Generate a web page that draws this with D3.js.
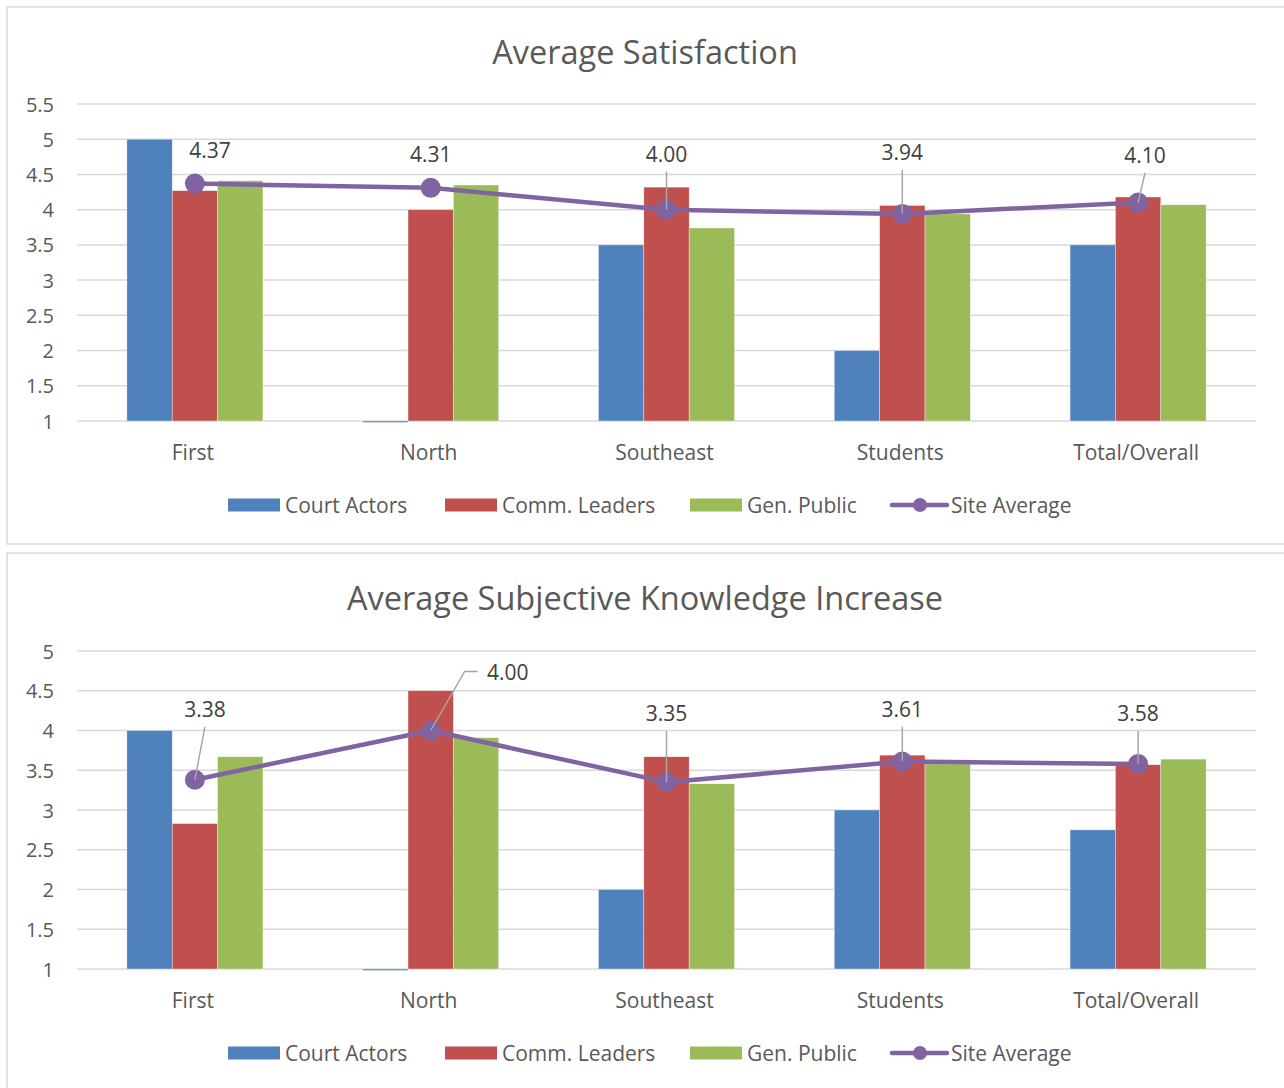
<!DOCTYPE html>
<html>
<head>
<meta charset="utf-8">
<script src="https://cdn.jsdelivr.net/npm/d3@7"></script>
<style>
  body { margin: 0; background: #fff; }
  svg text { font-family: "Open Sans", sans-serif; fill: #595959; }
</style>
</head>
<body>
<div id="container"></div>
<script>
// categories and series
const categories = ["First", "North", "Southeast", "Students", "Total/Overall"];
const seriesNames = ["Court Actors", "Comm. Leaders", "Gen. Public"];
const colors = ["#4F81BD", "#C0504D", "#9BBB59"];
const avgName = "Site Average";

// Average Satisfaction
const satCourt = [5.0, 0, 3.5, 2.0, 3.5];
const satComm  = [4.27, 4.0, 4.32, 4.06, 4.18];
const satGen   = [4.41, 4.35, 3.74, 3.94, 4.07];
const satAvg   = [4.37, 4.31, 4.00, 3.94, 4.10];
const satTicks = [1, 1.5, 2, 2.5, 3, 3.5, 4, 4.5, 5, 5.5];

// Average Subjective Knowledge Increase
const knCourt = [4.0, 0, 2.0, 3.0, 2.75];
const knComm  = [2.83, 4.5, 3.67, 3.69, 3.57];
const knGen   = [3.67, 3.91, 3.33, 3.58, 3.64];
const knAvg   = [3.38, 4.00, 3.35, 3.61, 3.58];
const knTicks = [1, 1.5, 2, 2.5, 3, 3.5, 4, 4.5, 5];

const width = 1284, height = 1088;
const svg = d3.select("#container").append("svg")
    .attr("width", width)
    .attr("height", height);

function drawChart(top, boxH, plotTop, plotH, title, bars, avg, ticks, labelOff) {
  const g = svg.append("g").attr("transform", "translate(0," + top + ")");
  g.append("rect")
      .attr("x", 7).attr("y", 0)
      .attr("width", 1290).attr("height", boxH)
      .attr("fill", "none").attr("stroke", "#D9D9D9").attr("stroke-width", 1.5);

  g.append("text")
      .attr("x", 645).attr("y", 44)
      .attr("text-anchor", "middle")
      .attr("dominant-baseline", "central")
      .style("font-size", "32.5px")
      .text(title);

  const plotBot = plotTop + plotH;
  const y = d3.scaleLinear().domain([ticks[0], ticks[ticks.length - 1]]).range([plotBot, plotTop]);
  const x0 = d3.scaleBand().domain(categories).range([77, 1256]).paddingInner(0.423).paddingOuter(0.2115);
  const x1 = d3.scaleBand().domain(seriesNames).range([0, x0.bandwidth()]);

  g.append("g")
    .selectAll("line")
    .data(ticks)
    .join("line")
      .attr("x1", 77).attr("x2", 1256)
      .attr("y1", d => y(d)).attr("y2", d => y(d))
      .attr("stroke", "#D9D9D9").attr("stroke-width", 1.5);

  g.append("g")
    .selectAll("text")
    .data(ticks)
    .join("text")
      .attr("x", 54).attr("y", d => y(d))
      .attr("text-anchor", "end")
      .attr("dominant-baseline", "central")
      .style("font-size", "20px")
      .text(d => d);

  const base = ticks[0];
  seriesNames.forEach((s, si) => {
    g.append("g")
      .selectAll("rect")
      .data(bars[si])
      .join("rect")
        .attr("x", (d, i) => x0(categories[i]) + x1(s))
        .attr("width", x1.bandwidth())
        .attr("y", d => d < base ? y(base) : y(d))
        .attr("height", d => d < base ? 1.5 : y(base) - y(d))
        .attr("fill", colors[si])
        .attr("stroke", "#fff").attr("stroke-width", 0.6).attr("stroke-opacity", 0.6);
  });

  const cx = (d, i) => x0(categories[i]) + x0.bandwidth() / 2;
  const line = d3.line().x(cx).y(d => y(d));
  g.append("path")
      .datum(avg)
      .attr("d", line)
      .attr("fill", "none")
      .attr("stroke", "#8064A2")
      .attr("stroke-width", 4.5)
      .attr("stroke-linejoin", "round");
  g.append("g")
    .selectAll("circle")
    .data(avg)
    .join("circle")
      .attr("cx", cx).attr("cy", d => y(d)).attr("r", 10)
      .attr("fill", "#8064A2");

  // data labels with leader lines
  avg.forEach((d, i) => {
    const px = cx(d, i), py = y(d);
    const lx = px + labelOff[i][0], ly = py + labelOff[i][1];
    if (labelOff[i][0] > 40) {
      const sx = lx - 30, sy = ly;
      g.append("polyline")
          .attr("points", [[sx, sy], [sx - 13, sy], [px, py]].map(p => p.join(",")).join(" "))
          .attr("fill", "none").attr("stroke", "#A6A6A6").attr("stroke-width", 1.5);
    } else if (-labelOff[i][1] > 40) {
      g.append("line")
          .attr("x1", lx).attr("y1", ly + 18)
          .attr("x2", px).attr("y2", py)
          .attr("stroke", "#A6A6A6").attr("stroke-width", 1.5);
    }
    g.append("text")
        .attr("x", lx).attr("y", ly)
        .attr("text-anchor", "middle")
        .attr("dominant-baseline", "central")
        .style("font-size", "21px")
        .style("fill", "#404040")
        .text(d.toFixed(2));
  });

  g.append("g")
    .selectAll("text")
    .data(categories)
    .join("text")
      .attr("x", d => x0(d) + x0.bandwidth() / 2 - 2)
      .attr("y", plotBot + 31)
      .attr("text-anchor", "middle")
      .attr("dominant-baseline", "central")
      .style("font-size", "21px")
      .text(d => d);

  // legend
  const ly = plotBot + 84;
  const legendX = [228, 445, 690];
  seriesNames.forEach((s, si) => {
    g.append("rect")
        .attr("x", legendX[si]).attr("y", ly - 6.5)
        .attr("width", 52).attr("height", 13)
        .attr("fill", colors[si]);
    g.append("text")
        .attr("x", legendX[si] + 57).attr("y", ly)
        .attr("dominant-baseline", "central")
        .style("font-size", "21px")
        .text(s);
  });
  g.append("line")
      .attr("x1", 892).attr("x2", 947).attr("y1", ly).attr("y2", ly)
      .attr("stroke", "#8064A2").attr("stroke-width", 4.5).attr("stroke-linecap", "round");
  g.append("circle").attr("cx", 920).attr("cy", ly).attr("r", 7).attr("fill", "#8064A2");
  g.append("text")
      .attr("x", 951).attr("y", ly)
      .attr("dominant-baseline", "central")
      .style("font-size", "21px")
      .text(avgName);
}

drawChart(7, 537, 97, 317, "Average Satisfaction",
  [satCourt, satComm, satGen], satAvg, satTicks,
  [[15, -34], [0, -34], [0, -56], [0, -62], [7, -48]]);
drawChart(553, 545, 98, 318, "Average Subjective Knowledge Increase",
  [knCourt, knComm, knGen], knAvg, knTicks,
  [[10, -71], [77, -59], [0, -69], [0, -53], [0, -51]]);
</script>
</body>
</html>
